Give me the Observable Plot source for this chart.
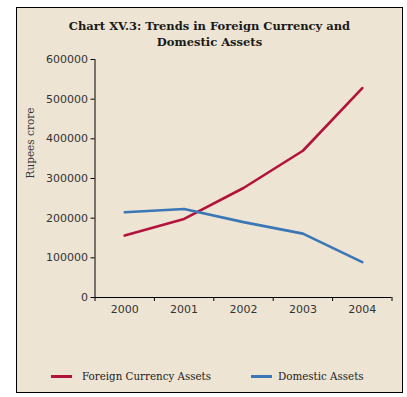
<!DOCTYPE html>
<html>
<head>
<meta charset="utf-8">
<script src="https://cdn.jsdelivr.net/npm/d3@7"></script>
<script src="https://cdn.jsdelivr.net/npm/@observablehq/plot@0.6"></script>
<style>
  html, body { margin: 0; padding: 0; background: #ffffff; }
  #frame {
    position: absolute; left: 16px; top: 7px; width: 385px; height: 384px;
    border: 1.5px solid #000; background: #ede4d3; overflow: hidden;
  }
  #title {
    position: absolute; left: 0; top: 10px; width: 100%; text-align: center;
    font-family: "DejaVu Serif", serif; font-weight: bold; font-size: 11.5px;
    line-height: 16px; color: #1a1a1a;
  }
  #chart { position: absolute; left: 0; top: 36px; }
  #legend {
    position: absolute; top: 362px; left: 0; width: 100%;
    font-family: "DejaVu Serif", serif; font-size: 10.3px; color: #222;
  }
  .item { position: absolute; display: flex; align-items: center; white-space: nowrap; }
  .swatch { width: 21px; height: 3px; }
</style>
</head>
<body>
<div id="frame">
  <div id="title">Chart XV.3: Trends in Foreign Currency and<br>Domestic Assets</div>
  <div id="chart"></div>
  <div id="legend"></div>
</div>
<script>
const years = [2000, 2001, 2002, 2003, 2004];
const foreignCurrencyAssets = [156000, 198000, 276000, 370000, 528000];
const domesticAssets = [215000, 223000, 190000, 161000, 89000];
const seriesNames = ["Foreign Currency Assets", "Domestic Assets"];
const seriesColors = ["#b2123b", "#3b76b6"];
const yTicks = [0, 100000, 200000, 300000, 400000, 500000, 600000];

const data = [
  ...years.map((y, i) => ({year: y, value: foreignCurrencyAssets[i], series: seriesNames[0]})),
  ...years.map((y, i) => ({year: y, value: domesticAssets[i], series: seriesNames[1]}))
];
const boundaries = [...years.map(y => y - 0.5), years[years.length - 1] + 0.5];

const chart = Plot.plot({
  width: 385,
  height: 283,
  marginLeft: 77.5,
  marginRight: 10.5,
  marginTop: 15,
  marginBottom: 30,
  style: {background: "transparent", fontFamily: "DejaVu Sans, sans-serif", fontSize: "11px", color: "#333"},
  x: {domain: [boundaries[0], boundaries[boundaries.length - 1]]},
  y: {domain: [0, 600000]},
  color: {domain: seriesNames, range: seriesColors},
  marks: [
    Plot.axisY({ticks: yTicks, tickFormat: d => String(d), tickSize: 4, tickPadding: 3, label: null, stroke: "#000", fill: "#333"}),
    Plot.axisX({ticks: boundaries, tickFormat: () => "", tickSize: 4, label: null, stroke: "#000"}),
    Plot.axisX({ticks: years, tickFormat: d => String(d), tickSize: 0, tickPadding: 8, label: null, fill: "#333"}),
    Plot.ruleX([boundaries[0]], {stroke: "#000"}),
    Plot.ruleY([0], {stroke: "#000"}),
    Plot.text(["Rupees crore"], {frameAnchor: "left", dx: -64, rotate: -90, fontFamily: "DejaVu Serif, serif", fontSize: 10.5, fill: "#333"}),
    Plot.line(data, {x: "year", y: "value", z: "series", stroke: "series", strokeWidth: 2.6})
  ]
});
document.getElementById("chart").appendChild(chart);

const legend = document.getElementById("legend");
const lefts = [34, 234];
const gaps = [10, 6];
seriesNames.forEach((name, i) => {
  const item = document.createElement("div");
  item.className = "item";
  item.style.left = lefts[i] + "px";
  const sw = document.createElement("span");
  sw.className = "swatch";
  sw.style.background = seriesColors[i];
  sw.style.marginRight = gaps[i] + "px";
  const t = document.createElement("span");
  t.textContent = name;
  item.appendChild(sw);
  item.appendChild(t);
  legend.appendChild(item);
});
</script>
</body>
</html>
